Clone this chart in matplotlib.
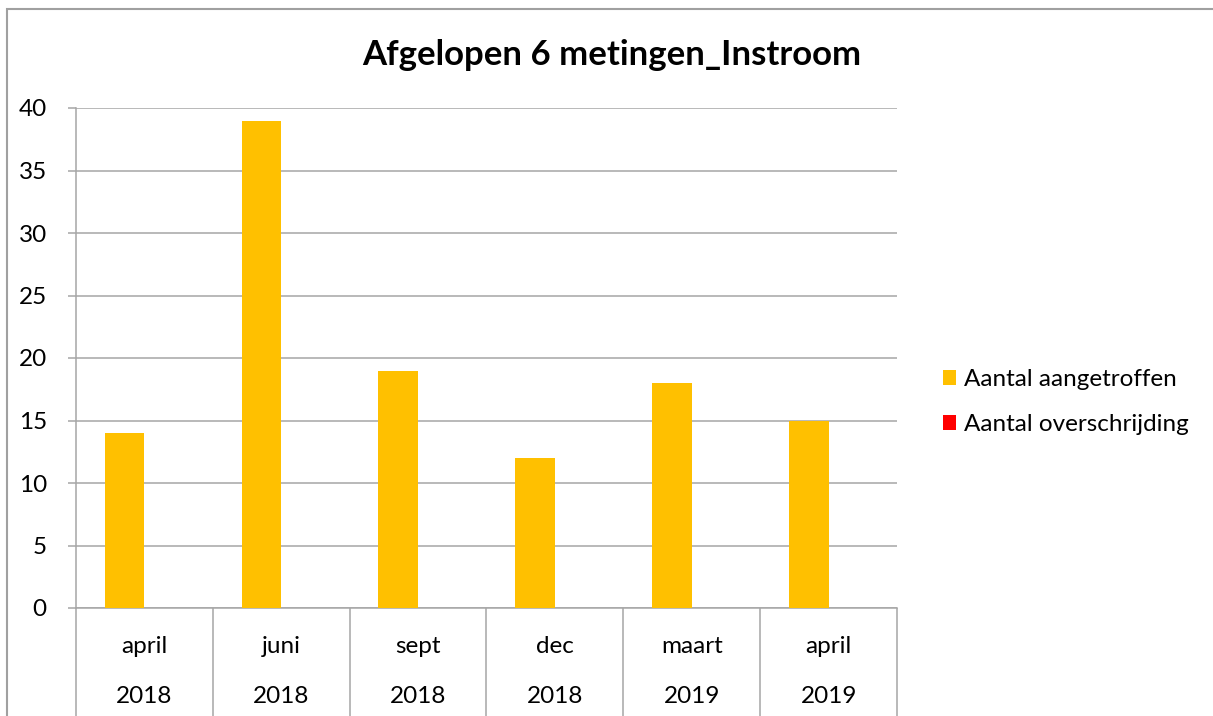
import matplotlib
matplotlib.use("Agg")
import matplotlib.pyplot as plt
import numpy as np
from matplotlib.patches import Rectangle, Patch

months = ["april", "juni", "sept", "dec", "maart", "april"]
years = ["2018", "2018", "2018", "2018", "2019", "2019"]
aangetroffen = [14, 39, 19, 12, 18, 15]
overschrijding = [0, 0, 0, 0, 0, 0]
series_names = ["Aantal aangetroffen", "Aantal overschrijding"]
colors = ["#FFC000", "#FF0000"]
title = "Afgelopen 6 metingen_Instroom"

plt.rcParams['font.family'] = ['Lato', 'DejaVu Sans']
W, H = 1213, 716
fig = plt.figure(figsize=(W / 100, H / 100), dpi=100)
ax = fig.add_axes([76 / W, 1 - 608 / H, (897 - 76) / W, 500 / H])

grid_c = "#A6A6A6"
x = np.arange(len(months))
w = 0.29
ax.bar(x - w / 2, aangetroffen, width=w, color=colors[0], zorder=3)
ax.bar(x + w / 2, overschrijding, width=w, color=colors[1], zorder=3)

ax.set_xlim(-0.5, len(months) - 0.5)
ax.set_ylim(0, 40)
ax.set_yticks(np.arange(0, 41, 5))
ax.yaxis.grid(True, color=grid_c, linewidth=1.1, zorder=0)
for s in ["top", "right"]:
    ax.spines[s].set_visible(False)
for s in ["left", "bottom"]:
    ax.spines[s].set_color(grid_c)
    ax.spines[s].set_linewidth(1.1)
ax.tick_params(axis="y", length=6, width=1.1, color=grid_c, pad=15, labelsize=17.5)

ax.set_xticks(x)
ax.set_xticklabels([f"{m}\n\n{y}" for m, y in zip(months, years)],
                   fontsize=17.5, linespacing=1.24)
ax.tick_params(axis="x", which="major", length=0, pad=20)
ax.set_xticks(np.arange(-0.5, len(months)), minor=True)
ax.tick_params(axis="x", which="minor", length=90, width=1.1, color=grid_c)

fig.text(612 / W, 1 - 55 / H, title, ha="center", va="center",
         fontsize=25, fontweight="bold")

handles = [Patch(facecolor=c, edgecolor="none") for c in colors]
fig.legend(handles, series_names, loc="center left",
           bbox_to_anchor=(921 / W, 1 - 402 / H), frameon=False,
           fontsize=17.5, handlelength=0.55, handleheight=0.55,
           handletextpad=0.3, labelspacing=1.0)

fig.patches.append(Rectangle((7 / W, -0.1), 1.2, 1.1 - 9 / H,
                             transform=fig.transFigure, fill=False,
                             edgecolor="#A0A0A0", linewidth=1.5))

fig.savefig("out.png", dpi=100)
